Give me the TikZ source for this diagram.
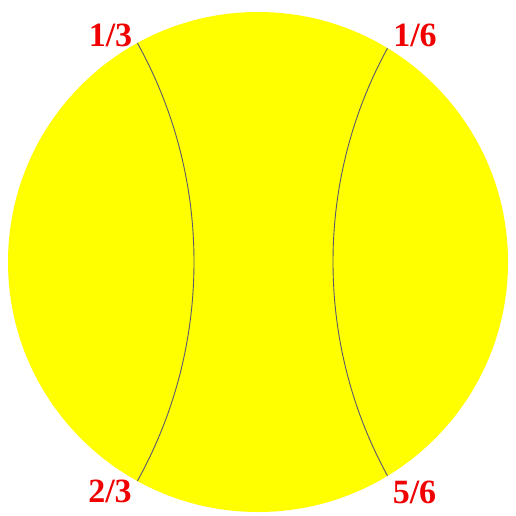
\documentclass[tikz,border=0pt]{standalone}
\usepackage{fontspec}
\setmainfont{Liberation Serif}
\definecolor{ball}{RGB}{255,255,0}
\definecolor{seam}{RGB}{90,90,110}
\definecolor{lab}{RGB}{240,0,0}
\begin{document}
\begin{tikzpicture}[x=1pt,y=-1pt,
  lbl/.style={text=lab,font=\bfseries\fontsize{34}{36}\selectfont,inner sep=0pt},
  seamline/.style={draw=seam,line width=0.9pt}]
\useasboundingbox (0,0) rectangle (516,516);
\fill[ball] (258,262) circle[radius=250pt];
\begin{scope}
  \clip (258,262) circle[radius=250pt];
  \draw[seamline] (-257,262) circle[radius=451pt];
  \draw[seamline] (779,262) circle[radius=446pt];
\end{scope}
\node[lbl] (a) at (110.5,35) {1/3};
\node[lbl] (b) at (415,35) {1/6};
\node[lbl] (c) at (110,491) {2/3};
\node[lbl] (d) at (414.5,492) {5/6};
\end{tikzpicture}
\end{document}
